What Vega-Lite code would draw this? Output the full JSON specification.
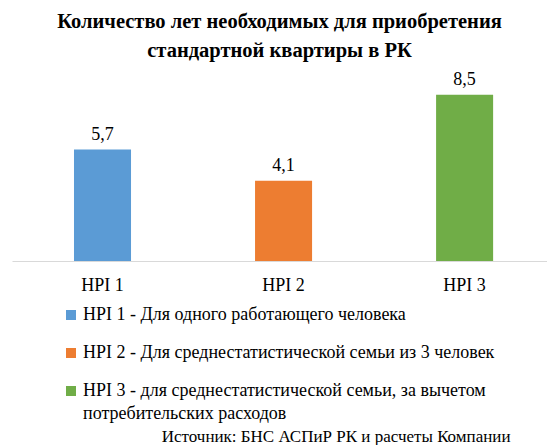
{
  "$schema": "https://vega.github.io/schema/vega-lite/v6.json",
  "width": 535,
  "height": 176,
  "autosize": {"type": "none"},
  "padding": {"left": 12, "top": 85, "right": 0, "bottom": 184},
  "background": "white",
  "config": {
    "view": {"stroke": null},
    "locale": {"number": {"decimal": ",", "thousands": " ", "grouping": [3], "currency": ["", ""]}},
    "font": "Liberation Serif",
    "style": {"guide-label": {"lineHeight": 23}}
  },
  "title": {
    "text": ["Количество лет необходимых для приобретения", "стандартной квартиры в РК"],
    "font": "Liberation Serif",
    "fontSize": 20.5,
    "fontWeight": "bold",
    "lineHeight": 29,
    "color": "black",
    "anchor": "middle",
    "offset": 9
  },
  "data": {
    "values": [
      {"hpi": "HPI 1", "desc": "HPI 1 - Для одного работающего человека", "years": 5.7},
      {"hpi": "HPI 2", "desc": "HPI 2 - Для среднестатистической семьи из 3 человек", "years": 4.1},
      {"hpi": "HPI 3", "desc": "HPI 3 - для среднестатистической семьи, за вычетом потребительских расходов", "years": 8.5}
    ]
  },
  "encoding": {
    "x": {
      "field": "hpi",
      "type": "nominal",
      "sort": null,
      "scale": {"paddingInner": 0.685, "paddingOuter": 0.32, "align": 0.535},
      "axis": {
        "title": "Источник: БНС АСПиР РК и расчеты Компании",
        "titleFont": "Liberation Serif",
        "titleFontSize": 17,
        "titleFontWeight": "normal",
        "titleColor": "black",
        "titleAnchor": "end",
        "titleAlign": "right",
        "titleBaseline": "alphabetic",
        "titleX": 498,
        "titleY": 180,
        "labelFont": "Liberation Serif",
        "labelFontSize": 18,
        "labelColor": "black",
        "labelAngle": 0,
        "labelPadding": 15,
        "ticks": false,
        "domainColor": "#D9D9D9",
        "domainWidth": 1
      }
    },
    "y": {
      "field": "years",
      "type": "quantitative",
      "scale": {"domain": [0, 9]},
      "axis": null
    }
  },
  "layer": [
    {
      "mark": {"type": "bar"},
      "encoding": {
        "color": {
          "field": "desc",
          "type": "nominal",
          "sort": null,
          "scale": {"range": ["#5B9BD5", "#ED7D31", "#70AD47"]},
          "legend": {
            "title": null,
            "orient": "none",
            "legendX": 50,
            "legendY": 221,
            "padding": 0,
            "symbolType": "square",
            "symbolSize": 100,
            "symbolStrokeWidth": 0,
            "labelFont": "Liberation Serif",
            "labelFontSize": 18,
            "labelColor": "black",
            "labelOffset": 3,
            "labelLimit": 600,
            "rowPadding": 20,
            "labelExpr": "datum.label == 'HPI 3 - для среднестатистической семьи, за вычетом потребительских расходов' ? ['HPI 3 - для среднестатистической семьи, за вычетом', 'потребительских расходов'] : datum.label"
          }
        }
      }
    },
    {
      "mark": {"type": "text", "dy": -10, "baseline": "alphabetic", "font": "Liberation Serif", "fontSize": 18, "color": "black"},
      "encoding": {
        "text": {"field": "years", "type": "quantitative", "format": ".1f"}
      }
    }
  ]
}
